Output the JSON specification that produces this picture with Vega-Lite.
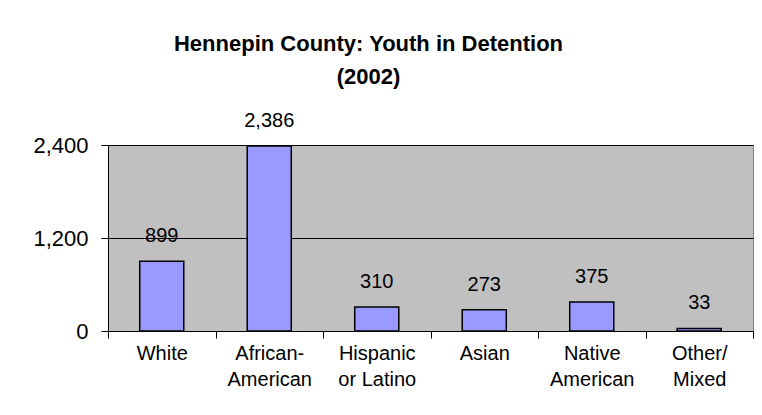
{
  "$schema": "https://vega.github.io/schema/vega-lite/v6.json",
  "width": 645,
  "height": 186,
  "autosize": {"type": "none"},
  "padding": {"left": 108, "top": 145, "right": 9, "bottom": 84},
  "background": "white",
  "title": {
    "text": ["Hennepin County: Youth in Detention", "(2002)"],
    "font": "Liberation Sans",
    "fontSize": 22,
    "fontWeight": "bold",
    "color": "black",
    "anchor": "middle",
    "frame": "group",
    "dx": -62,
    "offset": 22,
    "lineHeight": 33
  },
  "data": {
    "values": [
      {"category": "White", "count": 899},
      {"category": "African-American", "count": 2386},
      {"category": "Hispanic or Latino", "count": 310},
      {"category": "Asian", "count": 273},
      {"category": "Native American", "count": 375},
      {"category": "Other/Mixed", "count": 33}
    ]
  },
  "encoding": {
    "x": {
      "field": "category",
      "type": "nominal",
      "sort": null,
      "scale": {"paddingInner": 0, "paddingOuter": 0},
      "axis": {
        "title": null,
        "labelAngle": 0,
        "tickBand": "extent",
        "tickSize": 7,
        "tickColor": "black",
        "domainColor": "black",
        "labelFont": "Liberation Sans",
        "labelFontSize": 20,
        "labelColor": "black",
        "labelPadding": 5,
        "labelLineHeight": 26,
        "labelExpr": "datum.value == 'African-American' ? ['African-','American'] : datum.value == 'Hispanic or Latino' ? ['Hispanic','or Latino'] : datum.value == 'Native American' ? ['Native','American'] : datum.value == 'Other/Mixed' ? ['Other/','Mixed'] : datum.value"
      }
    },
    "y": {
      "field": "count",
      "type": "quantitative",
      "scale": {"domain": [0, 2400], "nice": false},
      "axis": {
        "title": null,
        "values": [0, 1200, 2400],
        "format": ",.0f",
        "grid": true,
        "gridColor": "black",
        "gridWidth": 1,
        "tickSize": 7,
        "tickColor": "black",
        "domainColor": "black",
        "labelFont": "Liberation Sans",
        "labelFontSize": 22,
        "labelColor": "black",
        "labelPadding": 13
      }
    }
  },
  "layer": [
    {
      "mark": {"type": "bar", "width": {"band": 0.41}, "color": "#9999FF", "stroke": "black", "strokeWidth": 1.5}
    },
    {
      "mark": {"type": "text", "dy": -25, "font": "Liberation Sans", "fontSize": 20, "color": "black", "baseline": "middle"},
      "encoding": {"text": {"field": "count", "type": "quantitative", "format": ",.0f"}}
    }
  ],
  "config": {
    "view": {"fill": "#C0C0C0", "stroke": "#808080", "strokeWidth": 1}
  }
}
